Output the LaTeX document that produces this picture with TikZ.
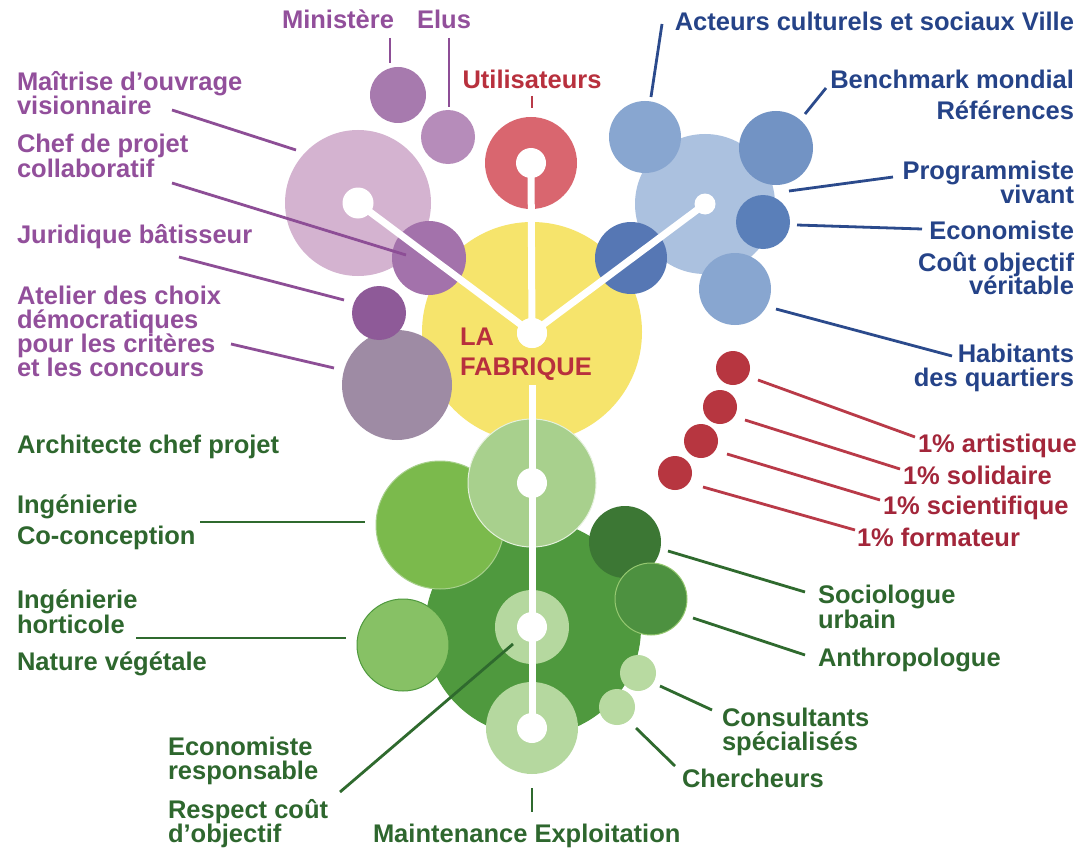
\documentclass[tikz,border=0pt]{standalone}
\usepackage{fontspec}
\setmainfont{Liberation Sans}
% text colours
\definecolor{txtP}{HTML}{924F9B}
\definecolor{txtB}{HTML}{254388}
\definecolor{txtG}{HTML}{2E672E}
\definecolor{txtR}{HTML}{B8303D}
\definecolor{txtRd}{HTML}{A3263A}
% leader colours
\definecolor{lnP}{HTML}{8D4E96}
\definecolor{lnB}{HTML}{2B4A8C}
\definecolor{lnR}{HTML}{B93A48}
\definecolor{lnG}{HTML}{2F6A2E}
% bubble fills
\definecolor{fMin}{HTML}{A77AAE}
\definecolor{fElu}{HTML}{B68CBA}
\definecolor{fMai}{HTML}{D4B3D0}
\definecolor{fChef}{HTML}{A372AB}
\definecolor{fJur}{HTML}{8E5A98}
\definecolor{fAtel}{HTML}{9E8BA4}
\definecolor{fUtil}{HTML}{D9666F}
\definecolor{fYel}{HTML}{F6E46C}
\definecolor{fAct}{HTML}{88A6D0}
\definecolor{fBen}{HTML}{7293C4}
\definecolor{fProg}{HTML}{ABC1DF}
\definecolor{fEco}{HTML}{5A7FB9}
\definecolor{fDb}{HTML}{5677B4}
\definecolor{fHab}{HTML}{88A6D0}
\definecolor{fRed}{HTML}{B73640}
\definecolor{gArch}{HTML}{A8D08D}
\definecolor{gCo}{HTML}{7BBA4C}
\definecolor{gBig}{HTML}{4F993E}
\definecolor{gSoc}{HTML}{3C7734}
\definecolor{gAnt}{HTML}{4D9140}
\definecolor{gHort}{HTML}{87C165}
\definecolor{gRing}{HTML}{B5D89F}
\definecolor{gSmall}{HTML}{B8DAA1}
\begin{document}
\begin{tikzpicture}[x=1pt,y=-1pt,
  bub/.style={circle,inner sep=0pt,outer sep=0pt,minimum size=#1},
  hole/.style={circle,fill=white,inner sep=0pt,outer sep=0pt,minimum size=#1},
  lbl/.style={inner sep=0pt,outer sep=0pt,font=\fontsize{25.5}{25.5}\selectfont\bfseries},
  lblP/.style={lbl,text=txtP,anchor=base west},
  lblB/.style={lbl,text=txtB,anchor=base east},
  lblG/.style={lbl,text=txtG,anchor=base west},
  lblR/.style={lbl,text=txtRd,anchor=base west},
  leadP/.style={draw=lnP,line width=2.8pt},
  leadB/.style={draw=lnB,line width=2.8pt},
  leadR/.style={draw=lnR,line width=2.8pt},
  leadG/.style={draw=lnG,line width=2.8pt},
  spine/.style={draw=white,line width=7pt}
]
\useasboundingbox[fill=white] (0,0) rectangle (1084,848);

% ---------- yellow core ----------
\node[bub=220pt,fill=fYel] (fab) at (532,332) {};

% ---------- purple group ----------
\node[bub=146pt,fill=fMai] (mai) at (358,203) {};
\node[bub=56pt,fill=fMin] (mini) at (398,95) {};
\node[bub=54pt,fill=fElu] (elus) at (448,137) {};
\node[bub=74pt,fill=fChef] (chef) at (429,258) {};
\node[bub=110pt,fill=fAtel] (atel) at (397,385) {};
\node[bub=54pt,fill=fJur] (jur) at (379,313) {};

% ---------- red user ring ----------
\node[bub=92pt,fill=fUtil] (util) at (531,163) {};

% ---------- blue group ----------
\node[bub=140pt,fill=fProg] (prog) at (705,204) {};
\node[bub=72pt,fill=fAct] (act) at (645,137) {};
\node[bub=74pt,fill=fBen] (ben) at (776,148) {};
\node[bub=54pt,fill=fEco] (eco) at (763,222) {};
\node[bub=72pt,fill=fHab] (hab) at (735,289) {};
\node[bub=72pt,fill=fDb] (dblue) at (631,258) {};

% ---------- red 1% dots ----------
\node[bub=34pt,fill=fRed] (r1) at (733,368) {};
\node[bub=34pt,fill=fRed] (r2) at (720,407) {};
\node[bub=34pt,fill=fRed] (r3) at (701,441) {};
\node[bub=34pt,fill=fRed] (r4) at (675,473) {};

% ---------- green group ----------
\node[bub=216pt,fill=gBig] (gbig) at (533,628) {};
\node[bub=128pt,fill=gCo,draw=gArch,line width=1pt] (coc) at (440,525) {};
\node[bub=128pt,fill=gArch,draw=white!70!gArch,line width=1pt] (arch) at (532,483) {};
\node[bub=92pt,fill=gHort,draw=gBig,line width=1pt] (hort) at (403,645) {};
\node[bub=72pt,fill=gSoc] (soc) at (625,542) {};
\node[bub=72pt,fill=gAnt,draw=gCo!80,line width=1pt] (ant) at (651,599) {};
\node[bub=74pt,fill=gRing] (mid) at (532,627) {};
\node[bub=92pt,fill=gRing] (bot) at (532,728) {};
\node[bub=36pt,fill=gSmall] (cons) at (638,673) {};
\node[bub=36pt,fill=gSmall] (cher) at (617,707) {};

% ---------- white spine ----------
\node[hole=30pt] (ctr) at (532,333) {};
\coordinate (spineB) at (532,385);
\draw[spine] (util.center) -- (ctr.center);
\draw[spine] (spineB) -- (bot.center);
\draw[spine] (ctr.center) -- (mai.center);
\draw[spine] (ctr.center) -- (prog.center);
\node[hole=30pt] at (util.center) {};
\node[hole=31pt] at (mai.center) {};
\node[hole=21pt] at (prog.center) {};
\node[hole=30pt] at (ctr.center) {};
\node[hole=30pt] at (arch.center) {};
\node[hole=30pt] at (mid.center) {};
\node[hole=30pt] at (bot.center) {};

% ---------- texts: purple ----------
\node[lbl,text=txtP,anchor=base] (tMin) at (338,29) {Ministère};
\node[lbl,text=txtP,anchor=base] (tElus) at (444,29) {Elus};
\node[lblP] (tMai1) at (17,91) {Maîtrise d’ouvrage};
\node[lblP] (tMai2) at (17,115) {visionnaire};
\node[lblP] (tChef1) at (17,153) {Chef de projet};
\node[lblP] (tChef2) at (17,177) {collaboratif};
\node[lblP] (tJur) at (17,243) {Juridique bâtisseur};
\node[lblP] (tAt1) at (17,304) {Atelier des choix};
\node[lblP] (tAt2) at (17,328) {démocratiques};
\node[lblP] (tAt3) at (17,352) {pour les critères};
\node[lblP] (tAt4) at (17,376) {et les concours};

% ---------- texts: red ----------
\node[lbl,text=txtR,anchor=base] (tUtil) at (532,89) {Utilisateurs};
\node[lbl,text=txtR,anchor=base west] (tLA) at (460,345) {LA};
\node[lbl,text=txtR,anchor=base west] (tFab) at (460,375) {FABRIQUE};
\node[lblR] (tR1) at (918,452) {1\% artistique};
\node[lblR] (tR2) at (903,484) {1\% solidaire};
\node[lblR] (tR3) at (883,514) {1\% scientifique};
\node[lblR] (tR4) at (857,546) {1\% formateur};

% ---------- texts: blue ----------
\node[lblB] (tAct) at (1074,31) {Acteurs culturels et sociaux Ville};
\node[lblB] (tBen) at (1074,89) {Benchmark mondial};
\node[lblB] (tRef) at (1074,120) {Références};
\node[lblB] (tProg1) at (1074,179) {Programmiste};
\node[lblB] (tProg2) at (1074,203) {vivant};
\node[lblB] (tEco) at (1074,239) {Economiste};
\node[lblB] (tCout1) at (1074,271) {Coût objectif};
\node[lblB] (tCout2) at (1074,294) {véritable};
\node[lblB] (tHab1) at (1074,362) {Habitants};
\node[lblB] (tHab2) at (1074,386) {des quartiers};

% ---------- texts: green ----------
\node[lblG] (tArch) at (17,453) {Architecte chef projet};
\node[lblG] (tIng1) at (17,513) {Ingénierie};
\node[lblG] (tCoc) at (17,544) {Co-conception};
\node[lblG] (tIng2) at (17,608) {Ingénierie};
\node[lblG] (tHort) at (17,633) {horticole};
\node[lblG] (tNat) at (17,670) {Nature végétale};
\node[lblG] (tEr1) at (168,755) {Economiste};
\node[lblG] (tEr2) at (168,779) {responsable};
\node[lblG] (tRc1) at (168,818) {Respect coût};
\node[lblG] (tRc2) at (168,842) {d’objectif};
\node[lblG] (tMaint) at (373,842) {Maintenance Exploitation};
\node[lblG] (tSoc1) at (818,603) {Sociologue};
\node[lblG] (tSoc2) at (818,628) {urbain};
\node[lblG] (tAnt) at (818,666) {Anthropologue};
\node[lblG] (tCons1) at (722,726) {Consultants};
\node[lblG] (tCons2) at (722,750) {spécialisés};
\node[lblG] (tCher) at (682,787) {Chercheurs};

% ---------- leader lines: purple ----------
\coordinate (pMinA) at (390,38);  \coordinate (pMinB) at (390,63);
\coordinate (pEluA) at (449,38);  \coordinate (pEluB) at (449,107);
\coordinate (pMaiA) at (172,110); \coordinate (pMaiB) at (296,150);
\coordinate (pChfA) at (172,183); \coordinate (pChfB) at (406,255);
\coordinate (pJurA) at (179,257); \coordinate (pJurB) at (344,300);
\coordinate (pAtlA) at (231,344); \coordinate (pAtlB) at (334,368);
\draw[leadP] (pMinA) -- (pMinB);
\draw[leadP] (pEluA) -- (pEluB);
\draw[leadP] (pMaiA) -- (pMaiB);
\draw[leadP] (pChfA) -- (pChfB);
\draw[leadP] (pJurA) -- (pJurB);
\draw[leadP] (pAtlA) -- (pAtlB);

% ---------- leader lines: red ----------
\coordinate (rUtlA) at (532,96); \coordinate (rUtlB) at (532,108);
\draw[leadR] (rUtlA) -- (rUtlB);
\coordinate (r1A) at (758,380); \coordinate (r1B) at (915,437);
\coordinate (r2A) at (745,420); \coordinate (r2B) at (900,469);
\coordinate (r3A) at (727,454); \coordinate (r3B) at (880,500);
\coordinate (r4A) at (703,487); \coordinate (r4B) at (855,530);
\draw[leadR] (r1A) -- (r1B);
\draw[leadR] (r2A) -- (r2B);
\draw[leadR] (r3A) -- (r3B);
\draw[leadR] (r4A) -- (r4B);

% ---------- leader lines: blue ----------
\coordinate (bActA) at (662,24);  \coordinate (bActB) at (651,97);
\coordinate (bBenA) at (826,88);  \coordinate (bBenB) at (805,114);
\coordinate (bPrgA) at (893,177); \coordinate (bPrgB) at (789,191);
\coordinate (bEcoA) at (922,229); \coordinate (bEcoB) at (797,225);
\coordinate (bHabA) at (952,356); \coordinate (bHabB) at (776,309);
\draw[leadB] (bActA) -- (bActB);
\draw[leadB] (bBenA) -- (bBenB);
\draw[leadB] (bPrgA) -- (bPrgB);
\draw[leadB] (bEcoA) -- (bEcoB);
\draw[leadB] (bHabA) -- (bHabB);

% ---------- leader lines: green ----------
\coordinate (gCocA) at (200,522); \coordinate (gCocB) at (365,522);
\coordinate (gHorA) at (136,638); \coordinate (gHorB) at (346,638);
\coordinate (gSocA) at (668,551); \coordinate (gSocB) at (805,592);
\coordinate (gAntA) at (693,618); \coordinate (gAntB) at (805,655);
\coordinate (gConA) at (660,686); \coordinate (gConB) at (712,710);
\coordinate (gChrA) at (636,728); \coordinate (gChrB) at (675,766);
\coordinate (gMntA) at (532,788); \coordinate (gMntB) at (532,812);
\coordinate (gEcoA) at (340,792); \coordinate (gEcoB) at (513,644);
\draw[leadG] (gCocA) -- (gCocB);
\draw[leadG] (gHorA) -- (gHorB);
\draw[leadG] (gSocA) -- (gSocB);
\draw[leadG] (gAntA) -- (gAntB);
\draw[leadG] (gConA) -- (gConB);
\draw[leadG] (gChrA) -- (gChrB);
\draw[leadG] (gMntA) -- (gMntB);
\draw[leadG] (gEcoA) -- (gEcoB);
\end{tikzpicture}
\end{document}
